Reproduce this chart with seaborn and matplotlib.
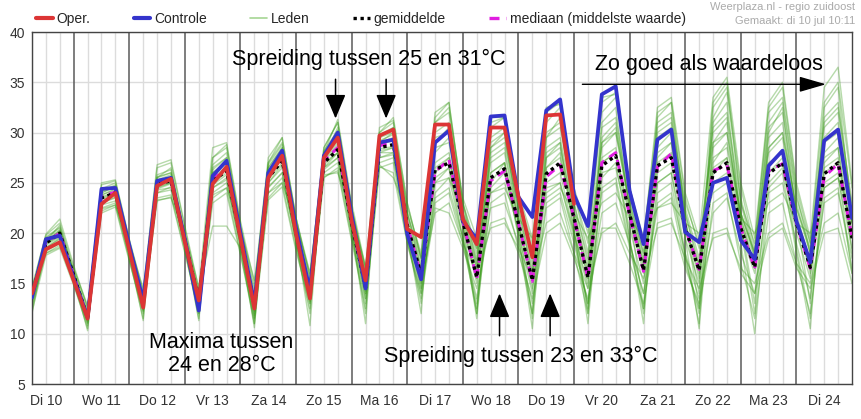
import matplotlib
matplotlib.use("Agg")
import matplotlib.pyplot as plt
from matplotlib.lines import Line2D
import pandas as pd
import seaborn as sns

# ---------------- data (6-hourly, starting Di 10 06:00) ----------------
day_labels = ["Di 10", "Wo 11", "Do 12", "Vr 13", "Za 14", "Zo 15", "Ma 16", "Di 17",
              "Wo 18", "Do 19", "Vr 20", "Za 21", "Zo 22", "Ma 23", "Di 24"]
start_hour = 6
step_hours = 6
y_ticks = [5, 10, 15, 20, 25, 30, 35, 40]

oper = [14.0, 18.4, 19.1, 15.3, 11.5, 22.9, 24.0, 18.3, 12.6, 24.7, 25.4, 19.1,
        13.3, 24.9, 26.6, 19.5, 12.5, 25.5, 27.7, 19.9, 13.5, 27.5, 29.5, 21.2,
        15.3, 29.7, 30.3, 20.4, 19.6, 30.8, 30.8, 21.4, 18.9, 30.5, 30.5, 23.6,
        17.6, 31.7, 31.8, 22.9]

controle = [13.6, 19.4, 19.75, 15.5, 11.6, 24.4, 24.5, 18.8, 13.3, 25.2, 25.5, 19.4,
            12.3, 25.7, 27.2, 20.0, 13.0, 26.0, 28.2, 20.5, 14.3, 27.7, 30.0, 21.8,
            14.5, 29.0, 29.3, 19.9, 15.4, 29.0, 30.2, 21.2, 19.4, 31.6, 31.7, 23.6,
            21.6, 32.2, 33.3, 23.8, 20.7, 33.8, 34.6, 24.2, 18.9, 29.3, 30.3, 20.1,
            19.1, 25.0, 25.5, 19.3, 17.4, 26.7, 28.2, 21.2, 17.1, 29.2, 30.3, 21.5]

gemiddelde = [13.8, 19.0, 20.0, 15.8, 11.6, 23.5, 24.0, 18.5, 13.0, 24.9, 25.2, 19.3,
              13.2, 25.2, 26.2, 19.6, 12.8, 25.5, 27.2, 20.0, 14.0, 27.0, 28.3, 21.0,
              14.6, 28.5, 28.8, 20.8, 15.9, 26.3, 27.0, 21.2, 15.6, 25.5, 26.4, 21.0,
              15.3, 25.9, 27.0, 21.5, 15.6, 26.7, 27.7, 21.9, 16.3, 26.7, 27.5, 20.5,
              16.3, 26.0, 27.0, 20.5, 16.6, 25.9, 27.0, 21.0, 16.6, 25.9, 27.0, 19.5]

mediaan = [13.8, 19.1, 20.0, 15.8, 11.6, 23.6, 24.1, 18.5, 13.0, 25.0, 25.3, 19.3,
           13.2, 25.4, 26.4, 19.6, 12.8, 25.7, 27.4, 20.0, 13.9, 27.2, 28.5, 21.0,
           14.6, 28.7, 29.0, 20.8, 15.8, 26.1, 27.3, 21.2, 15.5, 25.2, 26.2, 21.0,
           15.2, 25.6, 26.8, 21.5, 15.5, 27.0, 28.0, 21.8, 16.2, 26.6, 27.9, 20.6,
           16.4, 26.2, 26.8, 20.5, 16.5, 26.2, 26.9, 21.0, 16.5, 25.6, 26.9, 19.6]

lid01 = [13.5,19.5,20.5,16.0, 11.8,24.0,24.6,18.8, 13.4,25.5,26.0,19.8, 13.6,26.0,27.0,20.2, 13.0,26.2,28.0,20.8, 14.5,27.8,29.2,21.8, 15.2,29.2,29.8,21.5, 16.5,28.0,29.5,22.0, 17.0,28.5,29.5,22.5, 17.5,29.5,30.5,23.0, 17.0,30.5,31.5,23.5, 18.0,31.0,32.0,22.5, 17.5,30.0,31.5,22.0, 18.0,28.5,30.0,22.5, 18.5,30.5,32.0,22.0]
lid02 = [13.0,18.2,19.0,15.2, 11.0,22.5,23.0,17.8, 12.5,24.0,24.3,18.6, 12.5,24.0,25.0,18.8, 12.0,24.5,26.0,19.0, 13.0,26.0,27.0,20.0, 13.5,27.0,27.5,19.5, 14.0,23.5,24.5,19.5, 13.5,22.5,23.0,19.0, 13.0,23.0,24.0,19.0, 13.0,22.0,23.0,19.0, 14.0,23.0,24.0,18.0, 13.5,22.0,23.5,18.0, 14.0,24.0,25.0,19.0, 13.5,23.0,24.0,17.5]
lid03 = [14.3,19.3,20.3,16.2, 12.0,23.8,24.3,18.6, 13.0,25.0,25.5,19.5, 13.0,25.8,27.0,19.8, 13.5,26.5,28.5,20.5, 14.5,28.0,30.0,22.0, 15.5,29.5,30.5,22.0, 17.0,30.0,31.0,22.5, 17.5,27.0,28.0,21.0, 14.5,24.0,25.0,19.5, 13.0,24.5,25.5,19.0, 14.0,22.5,23.5,17.0, 12.5,27.0,29.0,22.0, 17.5,31.0,33.0,23.5, 19.0,27.5,28.5,20.0]
lid04 = [12.5,18.5,19.5,15.0, 10.5,23.0,23.5,17.5, 11.5,24.5,25.0,18.5, 11.5,24.5,25.5,18.5, 11.0,25.0,26.5,19.0, 12.0,26.5,28.0,20.0, 12.0,28.0,28.5,19.5, 13.0,25.0,26.5,19.5, 12.0,26.0,27.0,19.5, 12.0,28.0,29.0,20.0, 12.5,27.5,28.5,19.5, 12.0,25.0,26.0,18.0, 11.0,29.0,31.0,20.5, 12.0,26.0,27.5,18.5, 11.5,25.0,26.0,16.0]
lid05 = [13.8,19.0,20.2,16.0, 11.5,24.2,24.8,18.8, 13.2,25.8,26.3,19.8, 14.0,26.5,27.5,20.3, 13.2,26.8,28.8,21.0, 15.0,28.2,30.2,22.5, 16.0,29.8,30.5,22.5, 18.0,31.0,32.0,23.0, 18.0,29.5,30.5,23.0, 18.5,31.0,32.5,24.0, 19.0,32.0,33.5,24.5, 19.0,32.5,33.5,24.0, 19.5,33.5,35.5,25.0, 19.5,33.0,35.0,25.0, 19.5,34.5,36.5,25.0]
lid06 = [13.9,19.1,19.9,15.8, 11.7,23.4,23.9,18.4, 12.9,24.8,25.1,19.2, 13.3,25.0,26.0,19.5, 12.6,25.3,27.0,19.9, 14.0,27.2,28.5,21.0, 14.5,28.4,28.6,20.5, 15.5,26.5,27.5,21.0, 15.0,26.0,27.0,21.0, 15.5,26.5,27.5,21.5, 15.5,27.0,28.0,22.0, 16.5,27.0,28.0,21.0, 16.0,26.5,27.5,21.0, 16.5,26.0,27.0,21.0, 16.5,26.5,27.5,19.5]
lid07 = [14.0,18.8,19.6,15.6, 11.9,23.0,23.6,18.2, 13.5,24.3,24.5,19.0, 14.0,20.7,20.7,18.5, 12.5,24.0,25.5,19.5, 14.5,26.5,27.5,20.5, 14.0,27.5,28.0,20.0, 15.0,22.0,23.0,19.0, 16.0,20.5,21.0,18.5, 15.5,21.0,22.0,18.0, 14.5,20.0,21.0,18.0, 15.5,20.5,21.0,17.5, 14.5,19.5,20.0,16.5, 15.0,20.0,21.0,17.0, 15.0,21.0,22.0,16.0]
lid08 = [14.5,19.8,21.0,16.5, 12.5,24.8,25.2,19.3, 14.0,26.5,27.0,20.5, 14.0,27.5,28.5,21.0, 14.0,27.0,29.5,21.5, 15.5,28.5,31.0,22.5, 16.0,30.0,31.0,22.0, 16.5,31.5,33.0,23.0, 17.0,30.5,31.5,23.5, 18.0,30.0,31.0,23.0, 17.5,29.0,30.0,22.5, 17.0,28.0,29.0,21.0, 15.5,31.5,34.0,23.5, 18.0,29.5,31.0,22.0, 17.0,29.0,30.0,21.0]
lid09 = [12.2,17.8,18.5,14.8, 10.8,22.2,22.8,17.4, 12.0,23.5,23.8,18.2, 12.0,23.5,24.5,18.0, 11.0,23.5,25.0,18.5, 12.5,25.5,26.5,19.5, 13.0,26.5,27.0,19.0, 14.0,24.0,25.5,19.5, 13.0,24.5,26.0,20.0, 14.0,27.5,29.0,21.5, 15.5,29.5,31.0,22.5, 17.0,30.5,31.5,22.0, 16.5,32.5,34.5,24.5, 18.5,32.0,33.5,24.0, 18.0,31.5,33.0,22.5]
lid10 = [14.2,19.6,20.6,16.2, 11.4,23.8,24.4,18.7, 13.6,25.3,25.8,19.6, 13.8,26.3,27.5,20.0, 13.6,26.0,27.8,20.5, 14.2,27.5,29.0,21.5, 15.0,29.0,29.5,21.0, 16.0,28.5,29.0,22.0, 16.5,28.0,29.0,22.5, 16.0,27.5,28.5,22.0, 16.5,28.5,30.0,23.0, 18.0,29.5,30.5,22.0, 17.0,27.5,28.5,21.5, 17.0,28.5,30.0,22.5, 18.0,28.0,29.5,21.0]
lid11 = [13.2,18.6,19.4,15.4, 11.2,22.8,23.2,18.0, 12.4,24.0,24.6,18.8, 12.2,24.5,25.3,18.7, 11.5,24.6,26.0,19.2, 13.2,26.3,27.5,20.2, 13.5,27.5,27.8,19.8, 14.5,23.0,24.0,19.0, 12.5,23.0,24.0,18.5, 12.0,22.5,23.5,18.0, 12.0,24.0,25.0,18.5, 12.5,24.0,25.0,17.5, 12.0,23.0,24.0,17.0, 11.5,22.0,23.0,17.0, 12.0,23.5,24.5,16.5]
lid12 = [13.6,18.9,19.8,15.6, 11.6,23.2,23.8,18.3, 12.7,24.6,25.0,19.0, 12.8,24.8,25.8,19.3, 12.3,25.0,26.8,19.6, 13.6,26.8,28.0,20.8, 14.2,28.2,28.5,20.4, 16.0,27.0,28.0,21.5, 16.5,24.0,25.0,20.5, 16.0,25.0,26.0,20.0, 15.0,27.0,28.0,21.5, 16.0,26.0,27.0,20.0, 17.0,25.0,26.0,20.0, 16.0,28.0,29.5,21.5, 16.0,24.5,25.5,18.5]
lid13 = [14.1,19.2,20.1,16.0, 12.2,24.0,24.7,19.0, 13.2,25.2,25.6,19.5, 13.5,26.8,28.0,20.5, 14.5,27.5,29.5,21.5, 15.5,28.5,31.0,22.5, 16.5,30.0,31.5,23.0, 17.5,32.0,33.0,23.0, 18.5,31.0,31.5,23.5, 19.0,32.0,33.0,24.0, 18.0,33.0,34.0,24.5, 19.5,31.5,33.0,23.5, 18.5,30.5,32.0,23.0, 19.0,32.5,34.5,24.5, 19.0,33.0,35.0,24.5]
lid14 = [13.4,19.4,20.0,15.9, 11.3,23.6,24.1,18.3, 12.3,24.4,24.9,19.0, 12.0,25.2,26.3,19.2, 11.8,25.6,27.4,19.8, 13.5,27.3,28.8,20.8, 14.0,28.8,29.2,20.5, 14.5,26.0,27.5,20.5, 11.5,25.0,27.0,20.0, 10.5,26.5,28.0,20.5, 11.0,25.5,27.0,19.5, 11.0,27.5,29.0,19.5, 10.5,26.0,27.5,19.0, 10.0,24.5,26.0,18.0, 10.5,27.0,28.5,18.0]
lid15 = [14.6,19.9,21.4,16.8, 12.6,25.0,25.3,19.4, 14.3,26.8,27.3,20.7, 14.5,28.5,29.0,21.2, 15.0,27.0,29.0,21.5, 16.0,28.0,31.3,23.0, 16.6,30.5,31.2,23.0, 17.5,31.0,32.5,23.5, 19.5,31.5,31.5,24.0, 19.5,32.5,32.8,24.5, 20.0,33.5,33.8,24.5, 19.0,30.0,31.0,23.0, 19.0,29.0,30.0,22.0, 18.0,30.5,32.0,23.0, 18.0,31.0,32.5,23.0]
lid16 = [12.8,18.0,18.8,15.0, 11.1,22.0,22.6,17.2, 12.2,23.2,23.6,18.0, 12.4,23.0,24.0,17.8, 11.6,23.3,24.6,18.2, 13.0,25.6,26.2,19.2, 12.5,26.6,26.0,19.0, 13.5,22.5,22.0,18.5, 14.5,21.0,21.5,18.0, 13.5,20.0,21.0,17.5, 13.5,20.5,20.5,17.0, 13.0,21.0,21.5,16.5, 13.0,20.0,20.5,16.0, 14.0,19.5,20.5,16.5, 14.5,20.0,20.5,15.0]
lid17 = [13.7,19.0,19.7,15.7, 11.5,23.5,24.0,18.5, 13.1,24.9,25.3,19.4, 13.4,25.4,26.7,19.8, 12.9,25.8,27.5,20.2, 14.3,27.0,28.0,20.8, 14.8,28.0,28.0,20.3, 15.0,25.5,26.5,20.5, 15.5,27.5,28.5,21.5, 16.5,24.5,25.0,20.0, 14.5,29.0,30.5,23.0, 17.5,25.0,26.0,19.5, 15.0,28.5,30.0,21.5, 16.5,25.0,26.5,20.0, 15.5,29.5,31.0,21.0]
lid18 = [12.0,19.0,20.3,15.5, 10.3,24.2,24.6,18.0, 11.3,25.6,26.0,19.0, 11.3,26.0,27.2,19.0, 10.6,26.5,28.5,19.5, 10.8,27.8,29.8,20.5, 11.0,29.5,30.0,20.0, 12.0,29.0,30.5,21.0, 12.0,28.5,30.0,21.0, 11.5,29.5,31.5,21.5, 12.0,31.0,32.5,22.0, 12.5,32.0,33.0,21.5, 12.5,31.0,33.0,21.0, 13.0,30.0,32.5,21.5, 13.0,32.5,34.5,21.5]
lid19 = [14.8,18.0,18.6,16.5, 12.8,22.4,22.8,19.0, 14.5,23.3,23.5,20.0, 14.6,23.8,24.5,20.5, 15.3,24.0,25.0,21.0, 16.0,25.8,26.0,22.0, 16.6,26.8,25.5,22.0, 17.5,25.0,25.5,22.0, 18.5,24.0,24.5,21.5, 19.5,23.5,24.5,22.0, 19.5,23.0,24.0,21.5, 19.5,22.5,23.0,21.0, 20.0,24.0,25.0,21.5, 20.0,23.0,24.0,21.0, 20.0,24.5,25.5,21.0]
lid20 = [13.3,19.2,20.8,16.1, 11.8,24.4,25.0,18.9, 12.8,25.5,26.5,19.6, 12.9,27.5,28.8,20.5, 12.2,26.0,28.3,20.0, 13.8,27.5,30.5,21.5, 14.5,29.0,30.0,21.0, 15.5,29.5,30.0,21.5, 15.5,29.0,30.0,22.0, 17.0,28.5,29.5,22.5, 16.0,26.0,26.5,20.5, 15.0,28.5,30.0,21.5, 14.0,33.0,35.0,23.0, 17.5,27.0,28.0,21.0, 16.5,26.0,27.0,19.5]

leden = [lid01, lid02, lid03, lid04, lid05, lid06, lid07, lid08, lid09, lid10,
         lid11, lid12, lid13, lid14, lid15, lid16, lid17, lid18, lid19, lid20]

# ---------------- tables ----------------
n_steps = len(controle)
t_days = [(start_hour + step_hours * k) / 24.0 for k in range(n_steps)]

df_leden = pd.DataFrame([
    {"t": t_days[k], "temp": v, "lid": m}
    for m, serie in enumerate(leden) for k, v in enumerate(serie)
])
df_oper = pd.DataFrame({"t": t_days[:len(oper)], "temp": oper})
df_ctrl = pd.DataFrame({"t": t_days, "temp": controle})
df_mean = pd.DataFrame({"t": t_days, "temp": gemiddelde})
df_med = pd.DataFrame({"t": t_days, "temp": mediaan})

# ---------------- style ----------------
sns.set_style("white")
plt.rcParams["font.family"] = ["Liberation Sans", "DejaVu Sans"]

RED = "#dc3535"
BLUE = "#3434cc"
GREEN = "#379a16"
MAGENTA = "#e01ee0"

fig = plt.figure(figsize=(8.62, 4.19), dpi=100)
ax = fig.add_axes([32 / 862, 1 - 384 / 419, 820 / 862, 352 / 419])

x_end = len(day_labels)
ax.set_xlim(t_days[0], x_end)
ax.set_ylim(y_ticks[0], y_ticks[-1])

# grid
six_h = [k / 4 for k in range(1, 4 * x_end) if k % 4 != 0]
noons = [d + 0.5 for d in range(x_end)]
ax.set_xticks(noons)
ax.set_xticklabels(day_labels)
ax.set_xticks(six_h, minor=True)
ax.set_yticks(y_ticks)
ax.grid(which="both", axis="x", color="#dcdcdc", lw=1.0, zorder=0)
ax.grid(which="major", axis="y", color="#dcdcdc", lw=1.0, zorder=0)
ax.vlines(range(1, x_end), y_ticks[0], y_ticks[-1], colors="#5a5a5a", lw=1.1, zorder=1)
ax.set_axisbelow(True)

# series
sns.lineplot(data=df_leden, x="t", y="temp", units="lid", estimator=None,
             color=GREEN, alpha=0.36, linewidth=1.0, ax=ax, legend=False, zorder=2)
sns.lineplot(data=df_med, x="t", y="temp", color=MAGENTA, linewidth=2.2,
             linestyle=(0, (3, 2)), ax=ax, zorder=3)
sns.lineplot(data=df_mean, x="t", y="temp", color="black", linewidth=2.4,
             linestyle=(0, (1, 1.1)), ax=ax, zorder=4)
sns.lineplot(data=df_ctrl, x="t", y="temp", color=BLUE, linewidth=2.7, ax=ax, zorder=5)
sns.lineplot(data=df_oper, x="t", y="temp", color=RED, linewidth=2.7, ax=ax, zorder=6)

ax.set_xlabel("")
ax.set_ylabel("")
for s in ax.spines.values():
    s.set_color("#444444")
    s.set_linewidth(1.0)
ax.tick_params(axis="x", which="both", direction="out", length=5, color="#444444",
               labelsize=10, labelcolor="#333333", pad=2)
ax.tick_params(axis="y", which="major", direction="out", length=4, color="#444444",
               labelsize=10, labelcolor="#333333", pad=1)

# annotations
ann_font = dict(fontsize=15.5, color="black", ha="center", va="center", zorder=10)
ax.text(6.30, 37.3, "Spreiding tussen 25 en 31°C", **ann_font)
ax.text(12.43, 36.8, "Zo goed als waardeloos", **ann_font)
ax.text(3.66, 9.1, "Maxima tussen", **ann_font)
ax.text(3.66, 6.85, "24 en 28°C", **ann_font)
ax.text(9.05, 7.7, "Spreiding tussen 23 en 33°C", **ann_font)

arrow_kw = dict(arrowstyle="-|>,head_length=1.0,head_width=0.42", color="black",
                lw=1.1, mutation_scale=15, shrinkA=0, shrinkB=0)
for xd in (5.71, 6.62):
    ax.annotate("", xy=(xd, 31.4), xytext=(xd, 35.3), arrowprops=arrow_kw, zorder=10)
for xd in (8.66, 9.57):
    ax.annotate("", xy=(xd, 14.0), xytext=(xd, 9.8), arrowprops=arrow_kw, zorder=10)
ax.annotate("", xy=(14.53, 34.8), xytext=(10.15, 34.8),
            arrowprops=dict(arrowstyle="-|>,head_length=1.1,head_width=0.32", color="black",
                            lw=1.0, mutation_scale=15, shrinkA=0, shrinkB=0), zorder=10)

# legend
handles = [Line2D([], [], color=RED, lw=3),
           Line2D([], [], color=BLUE, lw=3),
           Line2D([], [], color="#a6d694", lw=1.2),
           Line2D([], [], color="black", lw=2.4, linestyle=(0, (1, 1.1))),
           Line2D([], [], color=MAGENTA, lw=2.4, linestyle=(0, (3, 2)))]
labels = ["Oper.", "Controle", "Leden", "gemiddelde", "mediaan (middelste waarde)"]
fig.legend(handles, labels, loc="center left", bbox_to_anchor=(36 / 862, 1 - 19 / 419),
           ncol=5, frameon=False, fontsize=10, handlelength=1.2, handletextpad=0.3,
           columnspacing=3.1, borderaxespad=0, borderpad=0)

fig.text(855 / 862, 1 - 7 / 419, "Weerplaza.nl - regio zuidoost", ha="right", va="center",
         fontsize=8, color="#aaaaaa")
fig.text(855 / 862, 1 - 21 / 419, "Gemaakt: di 10 jul 10:11", ha="right", va="center",
         fontsize=8, color="#aaaaaa")

fig.savefig("out.png", dpi=100)
